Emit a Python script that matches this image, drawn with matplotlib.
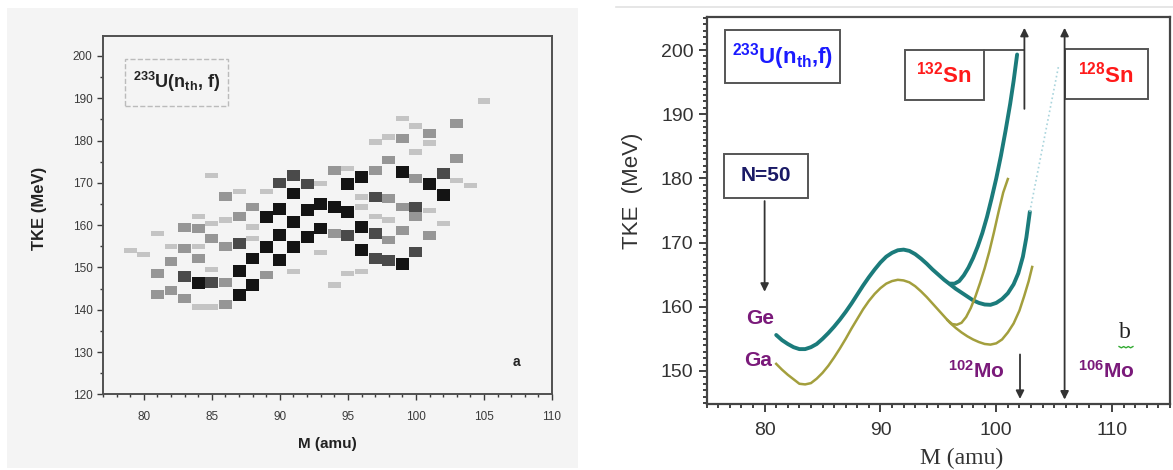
import numpy as np
import matplotlib
matplotlib.use('Agg')
import matplotlib.pyplot as plt
import matplotlib.ticker as ticker
from matplotlib.patches import Rectangle
from matplotlib.lines import Line2D

plt.rcParams['font.family'] = ['Liberation Sans', 'DejaVu Sans']
plt.rcParams['mathtext.fontset'] = 'custom'
plt.rcParams['mathtext.default'] = 'regular'

# ---- panel a: measured TKE vs mass cells (mass, TKE, grey level 1..4)
cell_mass = [79, 80,
             81, 81, 81,
             82, 82, 82,
             83, 83, 83, 83,
             84, 84, 84, 84, 84, 84,
             85, 85, 85, 85, 85, 85,
             86, 86, 86, 86, 86,
             87, 87, 87, 87, 87,
             88, 88, 88, 88, 88,
             89, 89, 89, 89,
             90, 90, 90, 90,
             91, 91, 91, 91, 91,
             92, 92, 92,
             93, 93, 93, 93,
             94, 94, 94, 94,
             95, 95, 95, 95, 95,
             96, 96, 96, 96, 96, 96,
             97, 97, 97, 97, 97, 97,
             98, 98, 98, 98, 98, 98,
             99, 99, 99, 99, 99, 99,
             100, 100, 100, 100, 100, 100,
             101, 101, 101, 101, 101,
             102, 102, 102,
             103, 103, 103,
             104, 105]
cell_tke = [154.0, 153.0,
            158.0, 148.6, 143.5,
            154.9, 151.3, 144.6,
            159.4, 154.5, 147.8, 142.7,
            162.0, 159.2, 154.9, 152.1, 146.4, 140.7,
            171.8, 160.4, 156.9, 149.5, 146.4, 140.7,
            166.7, 161.2, 154.9, 146.4, 141.3,
            167.9, 162.0, 155.7, 149.2, 143.5,
            164.3, 159.6, 156.9, 152.1, 145.8,
            167.9, 162.0, 154.9, 148.2,
            170.0, 163.9, 157.6, 151.7,
            171.8, 167.5, 160.8, 154.9, 149.0,
            169.7, 163.5, 157.2,
            169.8, 165.1, 159.2, 153.5,
            173.0, 164.3, 158.0, 145.8,
            173.4, 169.7, 163.1, 157.6, 148.6,
            171.4, 166.7, 164.3, 159.6, 154.1, 149.0,
            179.7, 173.0, 166.7, 162.0, 158.0, 152.1,
            180.9, 175.4, 166.3, 161.2, 156.5, 151.7,
            185.2, 180.5, 172.6, 164.3, 158.8, 150.9,
            183.4, 177.3, 171.0, 164.3, 162.0, 153.7,
            181.7, 179.4, 169.7, 163.5, 157.6,
            172.2, 167.1, 160.4,
            184.0, 175.7, 170.6,
            169.4, 189.4]
cell_level = [1, 1,
              1, 2, 2,
              1, 2, 2,
              2, 2, 3, 2,
              1, 2, 1, 2, 4, 1,
              1, 1, 2, 1, 3, 1,
              2, 1, 2, 2, 2,
              1, 2, 3, 4, 4,
              2, 1, 1, 4, 4,
              1, 4, 4, 2,
              3, 4, 4, 4,
              3, 4, 4, 4, 1,
              3, 4, 4,
              1, 4, 4, 1,
              2, 4, 2, 1,
              1, 4, 4, 3, 1,
              4, 1, 1, 4, 4, 1,
              1, 2, 3, 1, 3, 3,
              1, 2, 2, 1, 2, 3,
              1, 2, 4, 2, 2, 4,
              1, 1, 2, 3, 2, 3,
              2, 1, 4, 1, 2,
              3, 4, 1,
              2, 2, 1,
              1, 1]

# ---- panel b: model curves (mass, TKE)
teal_main_m = [81.0, 81.5, 82.0, 82.5, 83.0, 83.5, 84.0, 84.5, 85.0, 85.5, 86.0, 86.5, 87.0, 87.5,
               88.0, 88.5, 89.0, 89.5, 90.0, 90.5, 91.0, 91.5, 92.0, 92.5, 93.0, 93.5, 94.0, 94.5,
               95.0, 95.5, 96.0, 96.5, 97.0, 97.5, 98.0, 98.5, 99.0, 99.5, 100.0, 100.5, 101.0,
               101.5, 101.9, 102.3, 102.6, 102.9]
teal_main_e = [155.6, 154.8, 154.2, 153.7, 153.4, 153.4, 153.7, 154.2, 155.0, 155.9, 156.9, 158.0,
               159.2, 160.5, 161.9, 163.3, 164.6, 165.8, 166.9, 167.8, 168.4, 168.8, 168.9, 168.7,
               168.2, 167.5, 166.7, 165.8, 165.0, 164.2, 163.5, 162.8, 162.2, 161.6, 161.0, 160.6,
               160.35, 160.3, 160.6, 161.2, 162.1, 163.5, 165.2, 167.8, 170.8, 174.8]
teal_branch_m = [96.0, 96.4, 96.8, 97.2, 97.6, 98.0, 98.4, 98.8, 99.2, 99.6, 100.0, 100.4, 100.8,
                 101.2, 101.5, 101.8]
teal_branch_e = [163.6, 163.6, 164.0, 164.9, 166.1, 167.6, 169.4, 171.5, 174.0, 176.9, 180.0, 183.5,
                 187.4, 191.6, 195.2, 199.3]
dotted_m = [102.9, 105.4]
dotted_e = [174.8, 197.7]
olive_main_m = [81.0, 81.5, 82.0, 82.5, 83.0, 83.5, 84.0, 84.5, 85.0, 85.5, 86.0, 86.5, 87.0, 87.5,
                88.0, 88.5, 89.0, 89.5, 90.0, 90.5, 91.0, 91.5, 92.0, 92.5, 93.0, 93.5, 94.0, 94.5,
                95.0, 95.5, 96.0, 96.5, 97.0, 97.5, 98.0, 98.5, 99.0, 99.5, 100.0, 100.5, 101.0,
                101.5, 102.0, 102.4, 102.8, 103.1]
olive_main_e = [151.1, 150.2, 149.4, 148.7, 148.0, 147.9, 148.1, 148.8, 149.7, 150.8, 152.1, 153.5,
                155.0, 156.6, 158.1, 159.6, 160.9, 162.0, 162.9, 163.6, 164.0, 164.2, 164.1, 163.8,
                163.2, 162.4, 161.5, 160.5, 159.5, 158.5, 157.5, 156.7, 156.0, 155.4, 154.9, 154.5,
                154.2, 154.1, 154.3, 154.9, 156.0, 157.4, 159.4, 161.6, 164.0, 166.2]
olive_branch_m = [95.8, 96.2, 96.6, 97.0, 97.4, 97.8, 98.2, 98.6, 99.0, 99.4, 99.8, 100.2, 100.6, 101.0]
olive_branch_e = [157.9, 157.3, 157.2, 157.5, 158.4, 159.8, 161.6, 163.7, 166.0, 168.6, 171.6, 174.8,
                  177.8, 179.9]

fig = plt.figure(figsize=(11.73, 4.70), dpi=100)
W, H = 1173.0, 470.0

# grey background of the left picture and thin border line of the right one
fig.patches.append(Rectangle((7 / W, 1 - 468 / H), 571 / W, 460 / H, transform=fig.transFigure,
                             facecolor='#f4f4f4', edgecolor='none', zorder=-5))
fig.lines.append(Line2D([616 / W, 1.0], [1 - 7 / H, 1 - 7 / H], transform=fig.transFigure,
                        color='#e2e2e2', lw=1.2, zorder=-5))

# ================= left panel =================
ax1 = fig.add_axes([103 / W, 1 - 394.3 / H, 449 / W, 358.6 / H])
ax1.set_facecolor('#f4f4f4')
greys = {1: '#c4c4c4', 2: '#969696', 3: '#4a4a4a', 4: '#141414'}
hts = {1: 1.3, 2: 2.1, 3: 2.5, 4: 2.8}
colors = [greys[l] for l in cell_level]
heights = np.array([hts[l] for l in cell_level])
ax1.bar(cell_mass, heights, bottom=np.array(cell_tke) - heights / 2, width=0.95,
        color=colors, edgecolor='none')
ax1.set_xlim(77, 110)
ax1.set_ylim(120, 204.8)
ax1.set_xticks([80, 85, 90, 95, 100, 105, 110])
ax1.set_yticks([120, 130, 140, 150, 160, 170, 180, 190, 200])
ax1.xaxis.set_minor_locator(ticker.MultipleLocator(1))
ax1.yaxis.set_minor_locator(ticker.MultipleLocator(5))
ax1.tick_params(which='both', direction='out', colors='#3a3a3a', labelsize=8.5, width=1)
ax1.tick_params(which='major', length=4)
ax1.tick_params(which='minor', length=2.5)
ax1.tick_params(axis='x', pad=8)
for s in ax1.spines.values():
    s.set_color('#505050')
    s.set_linewidth(1.4)
ax1.set_xlabel('M (amu)', fontsize=11, fontweight='bold', color='#222222', labelpad=10)
ax1.set_ylabel('TKE (MeV)', fontsize=12, fontweight='bold', color='#222222')
ax1.yaxis.set_label_coords((47 - 103) / 449, 1 - (208 - 35.7) / 358.6)
ax1.add_patch(Rectangle((78.6, 188.2), 7.6, 11.0, facecolor='none', edgecolor='#bbbbbb',
                        lw=1, ls='--'))
ax1.text(82.4, 193.8, r'$^{233}$U(n$_{th}$, f)', fontsize=13, fontweight='bold',
         color='#222222', ha='center', va='center')
ax1.text(107.4, 127.7, 'a', fontsize=10, fontweight='bold', color='#222222',
         ha='center', va='center')

# ================= right panel =================
ax2 = fig.add_axes([706.7 / W, 1 - 404.3 / H, 463.3 / W, 387 / H])
teal = '#1b7b7b'
olive = '#a39f3d'
ax2.plot(teal_main_m, teal_main_e, color=teal, lw=2.8, solid_capstyle='round', solid_joinstyle='round')
ax2.plot(teal_branch_m, teal_branch_e, color=teal, lw=2.8, solid_capstyle='round', solid_joinstyle='round')
ax2.plot(dotted_m, dotted_e, color='#a9d4dc', lw=1.2, ls=':')
ax2.plot(olive_main_m, olive_main_e, color=olive, lw=1.8, solid_joinstyle='round')
ax2.plot(olive_branch_m, olive_branch_e, color=olive, lw=1.8, solid_joinstyle='round')
ax2.set_xlim(75, 115)
ax2.set_ylim(144.8, 205.1)
ax2.set_xticks([80, 90, 100, 110])
ax2.set_yticks([150, 160, 170, 180, 190, 200])
ax2.xaxis.set_minor_locator(ticker.MultipleLocator(1))
ax2.yaxis.set_minor_locator(ticker.MultipleLocator(1))
ax2.tick_params(which='both', direction='out', colors='#333333', labelsize=14, width=1.3)
ax2.tick_params(which='major', length=6)
ax2.tick_params(which='minor', length=3)
ax2.tick_params(axis='x', pad=7)
for s in ax2.spines.values():
    s.set_color('#444444')
    s.set_linewidth(1.6)
ax2.set_ylabel('TKE  (MeV)', fontsize=16, color='#333333')
ax2.yaxis.set_label_coords((643 - 706.7) / 463.3, 1 - (190.5 - 17.3) / 387)
ax2.set_xlabel('M (amu)', fontsize=17, family='Liberation Serif', color='#333333')
ax2.xaxis.set_label_coords((961.7 - 706.7) / 463.3, -(448 - 404.3) / 387)

box_kw = dict(facecolor='white', edgecolor='#555555', lw=1.4, zorder=3)
ax2.add_patch(Rectangle((76.6, 194.9), 9.9, 8.2, **box_kw))
ax2.text(81.55, 199.0, r'$^{233}$U(n$_{th}$,f)', fontsize=16, fontweight='bold', color='#1a1aff',
         ha='center', va='center', zorder=4)
ax2.add_patch(Rectangle((92.1, 192.2), 6.8, 7.8, **box_kw))
ax2.text(95.5, 196.2, r'$^{132}$Sn', fontsize=16, fontweight='bold', color='#ff1a1a',
         ha='center', va='center', zorder=4)
ax2.plot([98.9, 102.43], [200, 200], color='#555555', lw=1.4)
ax2.add_patch(Rectangle((105.96, 192.3), 7.14, 7.8, **box_kw))
ax2.text(109.5, 196.2, r'$^{128}$Sn', fontsize=16, fontweight='bold', color='#ff1a1a',
         ha='center', va='center', zorder=4)
ax2.add_patch(Rectangle((76.5, 176.9), 7.25, 6.9, **box_kw))
ax2.text(80.1, 180.4, 'N=50', fontsize=15, fontweight='bold', color='#1a1a66',
         ha='center', va='center', zorder=4)

arr = dict(arrowstyle='-|>', color='#333333', lw=1.3, mutation_scale=12)
ax2.annotate('', xy=(80, 161.9), xytext=(80, 176.9), arrowprops=arr)
ax2.annotate('', xy=(102.43, 203.9), xytext=(102.43, 190.4), arrowprops=arr)
ax2.annotate('', xy=(102.05, 145.2), xytext=(102.05, 153.0), arrowprops=arr)
ax2.annotate('', xy=(105.9, 203.9), xytext=(105.9, 145.1),
             arrowprops=dict(arrowstyle='<|-|>', color='#333333', lw=1.3, mutation_scale=12))

purple = '#7a1a7a'
ax2.text(79.6, 158.2, 'Ge', fontsize=15, fontweight='bold', color=purple, ha='center', va='center')
ax2.text(79.4, 151.7, 'Ga', fontsize=15, fontweight='bold', color=purple, ha='center', va='center')
ax2.text(98.3, 150.0, r'$^{102}$Mo', fontsize=15, fontweight='bold', color=purple,
         ha='center', va='center')
ax2.text(109.5, 150.0, r'$^{106}$Mo', fontsize=15, fontweight='bold', color=purple,
         ha='center', va='center')
ax2.text(111.1, 156.0, 'b', fontsize=17, family='Liberation Serif', color='#222222',
         ha='center', va='center')
ax2.plot([110.6, 110.8, 111.0, 111.2, 111.4, 111.6, 111.8],
         [153.8, 153.6, 153.8, 153.6, 153.8, 153.6, 153.8], color='#33aa33', lw=1)

fig.savefig('out.png', dpi=100, facecolor='white')
